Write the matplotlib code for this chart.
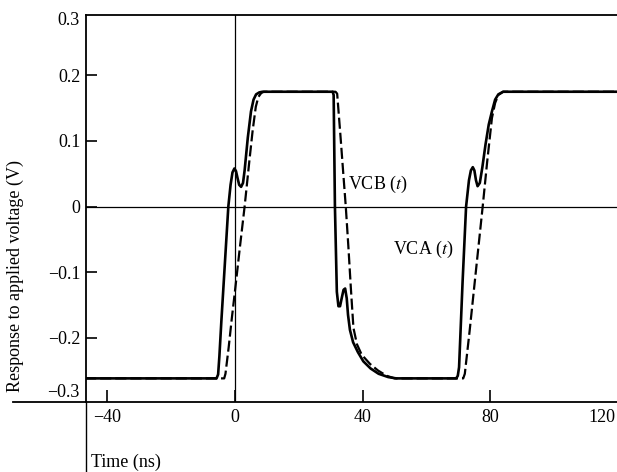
import matplotlib
matplotlib.use("Agg")
import matplotlib.pyplot as plt
from matplotlib.lines import Line2D

plt.rcParams['font.family'] = ['Liberation Serif', 'DejaVu Serif']
plt.rcParams['mathtext.fontset'] = 'stix'

# VCA(t) - solid trace (time in ns, volts)
t_vca = [-47, -5.8, -5.3, -4.9, -4.3, -3.7, -2.9, -2.1, -1.4, -0.8, -0.2, 0.3, 0.8,
         1.3, 1.9, 2.5, 3.0, 4.0, 5.0, 5.8, 6.6, 7.6, 8.6,
         30.6, 30.9, 31.3, 31.9, 32.4, 32.9, 33.5, 34.0, 34.5, 35.0, 35.4, 36.0,
         37.0, 38.5, 40.2, 42.5, 45.0, 48.0, 50.5,
         69.3, 69.8, 70.2, 71.3, 72.4, 73.3, 73.9, 74.5, 75.0, 75.5, 76.0, 76.7,
         77.5, 78.5, 79.5, 80.5, 81.5, 82.5, 84.0, 121]
v_vca = [-0.262, -0.262, -0.256, -0.228, -0.176, -0.128, -0.064, 0.0, 0.033, 0.052,
         0.058, 0.054, 0.043, 0.033, 0.030, 0.036, 0.055, 0.105, 0.145, 0.163,
         0.171, 0.174, 0.175,
         0.175, 0.170, 0.0, -0.13, -0.152, -0.152, -0.138, -0.127, -0.125, -0.14,
         -0.165, -0.188, -0.207, -0.222, -0.236, -0.247, -0.255, -0.26, -0.262,
         -0.262, -0.258, -0.245, -0.115, 0.0, 0.04, 0.055, 0.06, 0.055, 0.04,
         0.031, 0.036, 0.06, 0.095, 0.125, 0.145, 0.163, 0.171, 0.175, 0.175]

# VCB(t) - dashed trace
t_vcb = [-47, -3.4, -3.0, -2.0, -1.0, 0.0, 1.5, 3.0, 4.5, 5.5, 6.5, 7.3, 8.2, 9.0,
         31.5, 32.0, 33.0, 34.0, 34.7, 35.5, 36.3, 37.1, 38.2, 39.7, 42.3, 44.8,
         47.5, 50.0,
         71.5, 72.0, 73.5, 75.2, 77.6, 79.0, 80.5, 81.5, 82.5, 84.0, 121]
v_vcb = [-0.262, -0.262, -0.255, -0.215, -0.17, -0.128, -0.063, 0.0, 0.07, 0.115,
         0.152, 0.167, 0.173, 0.175,
         0.175, 0.172, 0.11, 0.045, 0.0, -0.06, -0.125, -0.185, -0.21, -0.226,
         -0.240, -0.250, -0.258, -0.262,
         -0.262, -0.255, -0.19, -0.111, 0.0, 0.068, 0.135, 0.158, 0.17, 0.175, 0.175]

x_ticks = [-40, 0, 40, 80, 120]
x_tick_labels = ['\u221240', '0', '40', '80', '']
y_ticks = [-0.2, -0.1, 0, 0.1, 0.2]
y_tick_labels = ['\u22120.2', '\u22120.1', '0', '0.1', '0.2']

W, H = 617, 472
fig = plt.figure(figsize=(W / 100, H / 100), dpi=100)
ax = fig.add_axes([86 / W, 70 / H, 532 / W, 387 / H])

ax.plot(t_vca, v_vca, color='black', lw=1.9, solid_joinstyle='round')
ax.plot(t_vcb, v_vcb, color='black', lw=1.6, dashes=(5, 1.8))

ax.axhline(0, color='black', lw=0.9)
ax.axvline(0, color='black', lw=0.9)

ax.set_xlim(-46.7, 120)
ax.set_ylim(-0.298, 0.292)

ax.set_xticks(x_ticks)
ax.set_xticklabels(x_tick_labels)
ax.set_yticks(y_ticks)
ax.set_yticklabels(y_tick_labels)
ax.tick_params(axis='y', direction='in', length=8, width=1.2, labelsize=13, pad=4)
ax.tick_params(axis='x', direction='in', length=9, width=1.2, labelsize=13, pad=5)

for s in ['left', 'bottom', 'top']:
    ax.spines[s].set_linewidth(1.3)
ax.spines['right'].set_visible(False)

# +-0.3 labels sit a little inside the frame
ax.text(-0.012, 0.283, '0.3', transform=ax.get_yaxis_transform(), ha='right',
        va='center', fontsize=13)
ax.text(-0.012, -0.283, '\u22120.3', transform=ax.get_yaxis_transform(), ha='right',
        va='center', fontsize=13)

# 120 sits at the right edge; keep it inside the picture
fig.text(615 / W, (H - 409) / H, '120', ha='right', va='top', fontsize=13)

ax.text(35.5, 0.034, 'VCB ($t$)', fontsize=13, va='center')
ax.text(49.5, -0.065, 'VCA ($t$)', fontsize=13, va='center')

# extended axis lines beyond the frame
fig.add_artist(Line2D([13 / W, 86 / W], [70 / H, 70 / H], color='black', lw=1.3))
fig.add_artist(Line2D([86 / W, 86 / W], [0, 70 / H], color='black', lw=1.0))

fig.text(15 / W, (H - 276) / H, 'Response to applied voltage (V)', rotation=90,
         ha='center', va='center', fontsize=13)
fig.text(91 / W, (H - 462) / H, 'Time (ns)', ha='left', va='center', fontsize=13)

fig.savefig('out.png', dpi=100)
